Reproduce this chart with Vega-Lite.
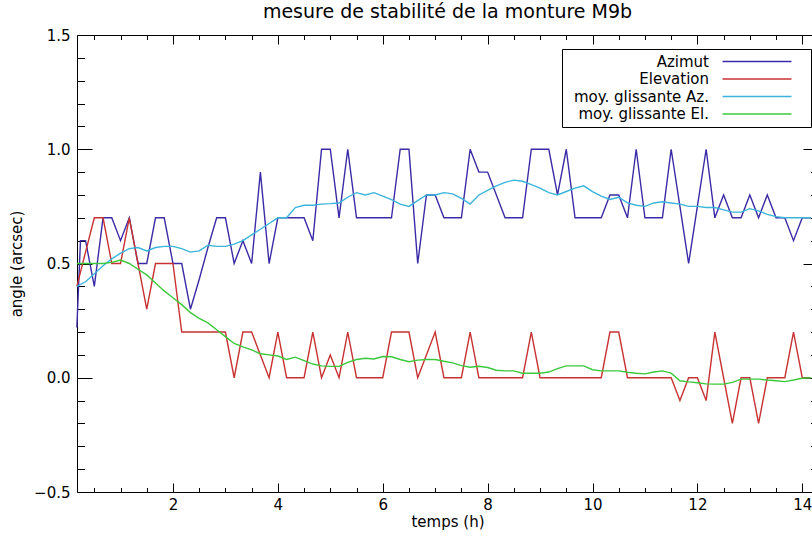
{
  "$schema": "https://vega.github.io/schema/vega-lite/v6.json",
  "width": 741,
  "height": 457,
  "autosize": {"type": "none"},
  "padding": {"left": 77, "top": 35, "right": 0, "bottom": 44},
  "background": "white",
  "title": {"text": "mesure de stabilité de la monture M9b", "fontSize": 19, "fontWeight": "normal", "font": "DejaVu Sans", "color": "black", "anchor": "middle", "offset": 6},
  "config": {
    "view": {"stroke": null},
    "font": "DejaVu Sans",
    "axis": {"grid": false, "domainColor": "black", "tickColor": "black", "labelColor": "black", "titleColor": "black", "domainWidth": 1, "tickWidth": 1, "labelFontSize": 15, "titleFontSize": 15, "titleFontWeight": "normal", "labelFlush": false, "labelOverlap": false}
  },
  "data": {"values": [
    {"t": 0.167, "az": 0.22, "el": 0.4, "maz": 0.40, "mel": 0.50},
    {"t": 0.236, "az": 0.6},
    {"t": 0.333, "az": 0.6, "el": 0.55, "maz": 0.42, "mel": 0.50},
    {"t": 0.5, "az": 0.4, "el": 0.7, "maz": 0.455, "mel": 0.50},
    {"t": 0.667, "az": 0.7, "el": 0.7, "maz": 0.49, "mel": 0.50},
    {"t": 0.833, "az": 0.7, "el": 0.5, "maz": 0.52, "mel": 0.505},
    {"t": 1.0, "az": 0.6, "el": 0.5, "maz": 0.545, "mel": 0.515},
    {"t": 1.167, "az": 0.7, "el": 0.7, "maz": 0.565, "mel": 0.50},
    {"t": 1.333, "az": 0.5, "el": 0.5, "maz": 0.57, "mel": 0.475},
    {"t": 1.5, "az": 0.5, "el": 0.3, "maz": 0.555, "mel": 0.45},
    {"t": 1.667, "az": 0.7, "el": 0.5, "maz": 0.57, "mel": 0.415},
    {"t": 1.833, "az": 0.7, "el": 0.5, "maz": 0.575, "mel": 0.38},
    {"t": 2.0, "az": 0.5, "el": 0.5, "maz": 0.575, "mel": 0.35},
    {"t": 2.167, "az": 0.5, "el": 0.2, "maz": 0.565, "mel": 0.32},
    {"t": 2.333, "az": 0.3, "el": 0.2, "maz": 0.55, "mel": 0.285},
    {"t": 2.5, "az": 0.43, "el": 0.2, "maz": 0.555, "mel": 0.26},
    {"t": 2.667, "az": 0.57, "el": 0.2, "maz": 0.58, "mel": 0.24},
    {"t": 2.833, "az": 0.7, "el": 0.2, "maz": 0.575, "mel": 0.21},
    {"t": 3.0, "az": 0.7, "el": 0.2, "maz": 0.575, "mel": 0.18},
    {"t": 3.167, "az": 0.5, "el": 0.0, "maz": 0.585, "mel": 0.15},
    {"t": 3.333, "az": 0.6, "el": 0.2, "maz": 0.60, "mel": 0.135},
    {"t": 3.5, "az": 0.5, "el": 0.2, "maz": 0.625, "mel": 0.122},
    {"t": 3.667, "az": 0.9, "el": 0.1, "maz": 0.65, "mel": 0.105},
    {"t": 3.833, "az": 0.5, "el": 0.0, "maz": 0.675, "mel": 0.10},
    {"t": 4.0, "az": 0.7, "el": 0.2, "maz": 0.70, "mel": 0.095},
    {"t": 4.167, "az": 0.7, "el": 0.0, "maz": 0.70, "mel": 0.08},
    {"t": 4.333, "az": 0.7, "el": 0.0, "maz": 0.745, "mel": 0.09},
    {"t": 4.5, "az": 0.7, "el": 0.0, "maz": 0.755, "mel": 0.075},
    {"t": 4.667, "az": 0.6, "el": 0.2, "maz": 0.755, "mel": 0.06},
    {"t": 4.833, "az": 1.0, "el": 0.0, "maz": 0.76, "mel": 0.052},
    {"t": 5.0, "az": 1.0, "el": 0.1, "maz": 0.762, "mel": 0.05},
    {"t": 5.167, "az": 0.7, "el": 0.0, "maz": 0.765, "mel": 0.05},
    {"t": 5.333, "az": 1.0, "el": 0.2, "maz": 0.79, "mel": 0.067},
    {"t": 5.5, "az": 0.7, "el": 0.0, "maz": 0.81, "mel": 0.08},
    {"t": 5.667, "az": 0.7, "el": 0.0, "maz": 0.80, "mel": 0.085},
    {"t": 5.833, "az": 0.7, "el": 0.0, "maz": 0.81, "mel": 0.082},
    {"t": 6.0, "az": 0.7, "el": 0.0, "maz": 0.795, "mel": 0.093},
    {"t": 6.167, "az": 0.7, "el": 0.2, "maz": 0.78, "mel": 0.092},
    {"t": 6.333, "az": 1.0, "el": 0.2, "maz": 0.76, "mel": 0.08},
    {"t": 6.5, "az": 1.0, "el": 0.2, "maz": 0.75, "mel": 0.07},
    {"t": 6.667, "az": 0.5, "el": 0.0, "maz": 0.775, "mel": 0.077},
    {"t": 6.833, "az": 0.8, "el": 0.1, "maz": 0.80, "mel": 0.08},
    {"t": 7.0, "az": 0.8, "el": 0.2, "maz": 0.80, "mel": 0.08},
    {"t": 7.167, "az": 0.7, "el": 0.0, "maz": 0.81, "mel": 0.072},
    {"t": 7.333, "az": 0.7, "el": 0.0, "maz": 0.805, "mel": 0.065},
    {"t": 7.5, "az": 0.7, "el": 0.0, "maz": 0.785, "mel": 0.053},
    {"t": 7.667, "az": 1.0, "el": 0.2, "maz": 0.76, "mel": 0.046},
    {"t": 7.833, "az": 0.9, "el": 0.0, "maz": 0.80, "mel": 0.05},
    {"t": 8.0, "az": 0.9, "el": 0.0, "maz": 0.82, "mel": 0.045},
    {"t": 8.167, "az": 0.8, "el": 0.0, "maz": 0.84, "mel": 0.033},
    {"t": 8.333, "az": 0.7, "el": 0.0, "maz": 0.855, "mel": 0.03},
    {"t": 8.5, "az": 0.7, "el": 0.0, "maz": 0.865, "mel": 0.03},
    {"t": 8.667, "az": 0.7, "el": 0.0, "maz": 0.86, "mel": 0.02},
    {"t": 8.833, "az": 1.0, "el": 0.2, "maz": 0.845, "mel": 0.02},
    {"t": 9.0, "az": 1.0, "el": 0.0, "maz": 0.83, "mel": 0.02},
    {"t": 9.167, "az": 1.0, "el": 0.0, "maz": 0.81, "mel": 0.025},
    {"t": 9.333, "az": 0.8, "el": 0.0, "maz": 0.80, "mel": 0.04},
    {"t": 9.5, "az": 1.0, "el": 0.0, "maz": 0.815, "mel": 0.052},
    {"t": 9.667, "az": 0.7, "el": 0.0, "maz": 0.83, "mel": 0.052},
    {"t": 9.833, "az": 0.7, "el": 0.0, "maz": 0.84, "mel": 0.052},
    {"t": 10.0, "az": 0.7, "el": 0.0, "maz": 0.815, "mel": 0.035},
    {"t": 10.167, "az": 0.7, "el": 0.0, "maz": 0.795, "mel": 0.03},
    {"t": 10.333, "az": 0.8, "el": 0.2, "maz": 0.78, "mel": 0.03},
    {"t": 10.5, "az": 0.8, "el": 0.2, "maz": 0.79, "mel": 0.03},
    {"t": 10.667, "az": 0.7, "el": 0.0, "maz": 0.765, "mel": 0.024},
    {"t": 10.833, "az": 1.0, "el": 0.0, "maz": 0.755, "mel": 0.02},
    {"t": 11.0, "az": 0.7, "el": 0.0, "maz": 0.75, "mel": 0.017},
    {"t": 11.167, "az": 0.7, "el": 0.0, "maz": 0.765, "mel": 0.025},
    {"t": 11.333, "az": 0.7, "el": 0.0, "maz": 0.77, "mel": 0.03},
    {"t": 11.5, "az": 1.0, "el": 0.0, "maz": 0.765, "mel": 0.02},
    {"t": 11.667, "az": 0.75, "el": -0.1, "maz": 0.76, "mel": -0.013},
    {"t": 11.833, "az": 0.5, "el": 0.0, "maz": 0.75, "mel": -0.018},
    {"t": 12.0, "az": 0.75, "el": 0.0, "maz": 0.75, "mel": -0.022},
    {"t": 12.167, "az": 1.0, "el": -0.1, "maz": 0.745, "mel": -0.027},
    {"t": 12.333, "az": 0.7, "el": 0.2, "maz": 0.745, "mel": -0.028},
    {"t": 12.5, "az": 0.8, "el": 0.0, "maz": 0.735, "mel": -0.028},
    {"t": 12.667, "az": 0.7, "el": -0.2, "maz": 0.725, "mel": -0.02},
    {"t": 12.833, "az": 0.7, "el": 0.0, "maz": 0.725, "mel": -0.006},
    {"t": 13.0, "az": 0.8, "el": 0.0, "maz": 0.74, "mel": -0.006},
    {"t": 13.167, "az": 0.7, "el": -0.2, "maz": 0.73, "mel": -0.006},
    {"t": 13.333, "az": 0.8, "el": 0.0, "maz": 0.715, "mel": -0.01},
    {"t": 13.5, "az": 0.7, "el": 0.0, "maz": 0.705, "mel": -0.013},
    {"t": 13.667, "az": 0.7, "el": 0.0, "maz": 0.70, "mel": -0.017},
    {"t": 13.833, "az": 0.6, "el": 0.2, "maz": 0.70, "mel": -0.01},
    {"t": 14.0, "az": 0.7, "el": 0.0, "maz": 0.70, "mel": -0.002},
    {"t": 14.167, "az": 0.7, "el": 0.0, "maz": 0.70, "mel": 0.0}
  ]},
  "transform": [
    {"fold": ["az", "el", "maz", "mel"], "as": ["serie", "angle"]},
    {"filter": "isValid(datum.angle)"}
  ],
  "layer": [
    {
      "mark": {"type": "line", "strokeWidth": 1.4},
      "encoding": {
        "x": {"field": "t", "type": "quantitative", "scale": {"domain": [0.17, 14.3], "nice": false, "zero": false},
          "axis": {"orient": "bottom", "values": [2, 4, 6, 8, 10, 12, 14], "tickSize": -9, "format": ".0f",
            "labelPadding": 14, "title": "temps (h)", "titlePadding": 2}},
        "y": {"field": "angle", "type": "quantitative", "scale": {"domain": [-0.5, 1.5], "nice": false, "zero": false},
          "axis": {"orient": "left", "values": [-0.5, 0, 0.5, 1, 1.5], "tickSize": -15, "format": ".1f",
            "labelPadding": 22, "title": "angle (arcsec)", "titlePadding": 9}},
        "color": {"field": "serie", "type": "nominal",
          "scale": {"domain": ["az", "el", "maz", "mel"], "range": ["#3b2ba6", "#c83232", "#3cb4dc", "#3cc83c"]},
          "legend": {"orient": "none", "legendX": 485, "legendY": 14, "title": null, "padding": 5,
            "strokeColor": "black", "fillColor": "white",
            "symbolType": "M-10,0H10M13.2,0", "symbolSize": 47.6, "symbolStrokeWidth": 1.4,
            "symbolOffset": 182.5, "labelOffset": -55.5, "labelAlign": "right",
            "labelFontSize": 15, "labelFont": "DejaVu Sans", "labelColor": "black", "rowPadding": 1.5,
            "labelExpr": "datum.label == 'az' ? 'Azimut' : datum.label == 'el' ? 'Elevation' : datum.label == 'maz' ? 'moy. glissante Az.' : 'moy. glissante El.'"}}
      }
    },
    {
      "mark": {"type": "line", "opacity": 0},
      "encoding": {
        "x": {"field": "t", "type": "quantitative", "scale": {"domain": [0.17, 14.3], "nice": false, "zero": false},
          "axis": {"orient": "bottom", "values": [0.5,1,1.5,2.5,3,3.5,4.5,5,5.5,6.5,7,7.5,8.5,9,9.5,10.5,11,11.5,12.5,13,13.5], "tickSize": -4.5,
            "labels": false, "domain": false, "title": null}},
        "y": {"field": "angle", "type": "quantitative", "scale": {"domain": [-0.5, 1.5], "nice": false, "zero": false},
          "axis": {"orient": "left", "values": [-0.4,-0.3,-0.2,-0.1,0.1,0.2,0.3,0.4,0.6,0.7,0.8,0.9,1.1,1.2,1.3,1.4], "tickSize": -7.5,
            "labels": false, "domain": false, "title": null}},
        "detail": {"field": "serie", "type": "nominal"}
      }
    },
    {
      "mark": {"type": "line", "opacity": 0},
      "encoding": {
        "x": {"field": "t", "type": "quantitative", "scale": {"domain": [0.17, 14.3], "nice": false, "zero": false},
          "axis": {"orient": "top", "values": [2, 4, 6, 8, 10, 12, 14], "tickSize": -9,
            "labels": false, "title": null}},
        "y": {"field": "angle", "type": "quantitative", "scale": {"domain": [-0.5, 1.5], "nice": false, "zero": false},
          "axis": {"orient": "right", "values": [-0.5, 0, 0.5, 1, 1.5], "tickSize": -15,
            "labels": false, "title": null}},
        "detail": {"field": "serie", "type": "nominal"}
      }
    },
    {
      "mark": {"type": "line", "opacity": 0},
      "encoding": {
        "x": {"field": "t", "type": "quantitative", "scale": {"domain": [0.17, 14.3], "nice": false, "zero": false},
          "axis": {"orient": "top", "values": [0.5,1,1.5,2.5,3,3.5,4.5,5,5.5,6.5,7,7.5,8.5,9,9.5,10.5,11,11.5,12.5,13,13.5], "tickSize": -4.5,
            "labels": false, "domain": false, "title": null}},
        "y": {"field": "angle", "type": "quantitative", "scale": {"domain": [-0.5, 1.5], "nice": false, "zero": false},
          "axis": {"orient": "right", "values": [-0.4,-0.3,-0.2,-0.1,0.1,0.2,0.3,0.4,0.6,0.7,0.8,0.9,1.1,1.2,1.3,1.4], "tickSize": -7.5,
            "labels": false, "domain": false, "title": null}},
        "detail": {"field": "serie", "type": "nominal"}
      }
    }
  ],
  "resolve": {"axis": {"x": "independent", "y": "independent"}}
}
